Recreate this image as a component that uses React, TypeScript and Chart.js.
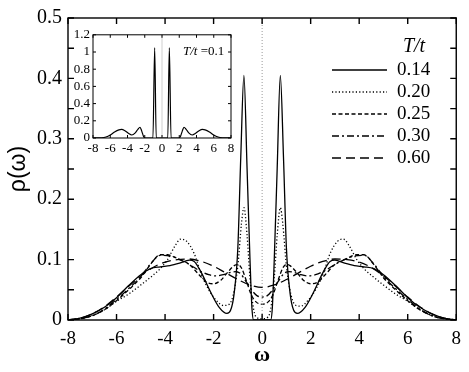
import React, { useEffect, useRef } from 'react';
import { Chart, registerables } from 'chart.js';
Chart.register(...registerables);

// ---------- data ----------
const X_014 = [-8, -7.5, -7, -6.5, -6, -5.5, -5, -4.6, -4.2, -3.8, -3.4, -3.0, -2.8, -2.5, -2.12, -1.77, -1.45, -1.3, -1.15, -1.0, -0.88, -0.75, -0.62, -0.5, -0.42, -0.35, 0, 0.35, 0.42, 0.5, 0.62, 0.75, 0.88, 1.0, 1.15, 1.3, 1.45, 1.77, 2.12, 2.5, 2.8, 3.0, 3.4, 3.8, 4.2, 4.6, 5, 5.5, 6, 6.5, 7, 7.5, 8];
const Y_014 = [0, 0.003, 0.01, 0.021, 0.037, 0.057, 0.075, 0.085, 0.088, 0.09, 0.094, 0.099, 0.097, 0.078, 0.046, 0.021, 0.011, 0.016, 0.045, 0.12, 0.27, 0.405, 0.25, 0.1, 0.02, 0, 0, 0, 0.02, 0.1, 0.25, 0.405, 0.27, 0.12, 0.045, 0.016, 0.011, 0.021, 0.046, 0.078, 0.097, 0.099, 0.094, 0.09, 0.088, 0.085, 0.075, 0.057, 0.037, 0.021, 0.01, 0.003, 0];

const X_020 = [-8, -7.5, -7, -6.5, -6, -5.5, -5, -4.5, -4.2, -3.9, -3.6, -3.35, -3.1, -2.8, -2.5, -2.2, -1.9, -1.6, -1.4, -1.2, -1.0, -0.85, -0.75, -0.62, -0.5, -0.38, -0.25, 0, 0.25, 0.38, 0.5, 0.62, 0.75, 0.85, 1.0, 1.2, 1.4, 1.6, 1.9, 2.2, 2.5, 2.8, 3.1, 3.35, 3.6, 3.9, 4.2, 4.5, 5, 5.5, 6, 6.5, 7, 7.5, 8];
const Y_020 = [0, 0.003, 0.008, 0.017, 0.031, 0.043, 0.058, 0.074, 0.085, 0.1, 0.122, 0.134, 0.13, 0.11, 0.075, 0.05, 0.033, 0.024, 0.025, 0.04, 0.09, 0.16, 0.186, 0.14, 0.07, 0.025, 0.005, 0.002, 0.005, 0.025, 0.07, 0.14, 0.186, 0.16, 0.09, 0.04, 0.024, 0.023, 0.033, 0.05, 0.075, 0.11, 0.13, 0.134, 0.122, 0.1, 0.085, 0.074, 0.058, 0.043, 0.031, 0.017, 0.008, 0.003, 0];

const X_025 = [-8, -7.5, -7, -6.5, -6, -5.5, -5, -4.6, -4.2, -3.9, -3.5, -3.0, -2.6, -2.3, -2.0, -1.7, -1.4, -1.15, -1.0, -0.85, -0.65, -0.45, -0.25, 0, 0.25, 0.45, 0.65, 0.85, 1.0, 1.15, 1.4, 1.7, 2.0, 2.3, 2.6, 3.0, 3.5, 3.9, 4.2, 4.6, 5, 5.5, 6, 6.5, 7, 7.5, 8];
const Y_025 = [0, 0.002, 0.007, 0.017, 0.032, 0.05, 0.07, 0.092, 0.108, 0.108, 0.102, 0.092, 0.075, 0.063, 0.06, 0.066, 0.08, 0.09, 0.092, 0.086, 0.065, 0.042, 0.03, 0.026, 0.03, 0.042, 0.065, 0.086, 0.092, 0.09, 0.08, 0.066, 0.06, 0.063, 0.075, 0.092, 0.102, 0.108, 0.108, 0.092, 0.07, 0.05, 0.032, 0.017, 0.007, 0.002, 0];

const X_030 = [-8, -7.5, -7, -6.5, -6, -5.5, -5, -4.6, -4.2, -3.8, -3.4, -3.0, -2.6, -2.2, -1.9, -1.6, -1.3, -1.1, -0.9, -0.65, -0.4, -0.2, 0, 0.2, 0.4, 0.65, 0.9, 1.1, 1.3, 1.6, 1.9, 2.2, 2.6, 3.0, 3.4, 3.8, 4.2, 4.6, 5, 5.5, 6, 6.5, 7, 7.5, 8];
const Y_030 = [0, 0.002, 0.007, 0.018, 0.034, 0.052, 0.072, 0.093, 0.107, 0.106, 0.1, 0.092, 0.082, 0.075, 0.073, 0.075, 0.079, 0.08, 0.077, 0.063, 0.048, 0.04, 0.038, 0.04, 0.048, 0.063, 0.077, 0.08, 0.079, 0.075, 0.073, 0.075, 0.082, 0.092, 0.1, 0.106, 0.107, 0.093, 0.072, 0.052, 0.034, 0.018, 0.007, 0.002, 0];

const X_060 = [-8, -7.5, -7, -6.5, -6, -5.5, -5, -4.5, -4, -3.5, -3.0, -2.5, -2.0, -1.5, -1.0, -0.5, 0, 0.5, 1.0, 1.5, 2.0, 2.5, 3.0, 3.5, 4, 4.5, 5, 5.5, 6, 6.5, 7, 7.5, 8];
const Y_060 = [0, 0.003, 0.01, 0.022, 0.038, 0.056, 0.073, 0.087, 0.096, 0.1, 0.101, 0.097, 0.089, 0.078, 0.067, 0.058, 0.054, 0.058, 0.067, 0.078, 0.089, 0.097, 0.101, 0.1, 0.096, 0.087, 0.073, 0.056, 0.038, 0.022, 0.01, 0.003, 0];

// inset: T/t = 0.1
const X_INSET = [-8, -7, -6.5, -6, -5.5, -5, -4.7, -4.3, -3.9, -3.5, -3.1, -2.8, -2.55, -2.35, -2.15, -2.0, -1.05, -0.85, -0.67, 0, 0.67, 0.85, 1.05, 2.0, 2.15, 2.35, 2.55, 2.8, 3.1, 3.5, 3.9, 4.3, 4.7, 5, 5.5, 6, 6.5, 7, 8];
const Y_INSET = [0, 0.003, 0.012, 0.035, 0.07, 0.095, 0.1, 0.085, 0.055, 0.035, 0.06, 0.1, 0.125, 0.08, 0.02, 0, 0, 1.05, 0, 0, 0, 1.05, 0, 0, 0.02, 0.08, 0.125, 0.1, 0.06, 0.035, 0.055, 0.085, 0.1, 0.095, 0.07, 0.035, 0.012, 0.003, 0];

const LEGEND_TITLE = 'T/t';
const SERIES_LABELS = ['0.14', '0.20', '0.25', '0.30', '0.60'];
const SERIES_X = [X_014, X_020, X_025, X_030, X_060];
const SERIES_Y = [Y_014, Y_020, Y_025, Y_030, Y_060];
const SERIES_DASH = [[], [1.2, 2.2], [4, 2.5], [7, 3, 2, 3], [9, 5]];

const X_TICKS = [-8, -6, -4, -2, 0, 2, 4, 6, 8];
const Y_TICKS = [0, 0.1, 0.2, 0.3, 0.4, 0.5];
const Y_MINOR = [0.05, 0.15, 0.25, 0.35, 0.45];
const INSET_X_TICKS = [-8, -6, -4, -2, 0, 2, 4, 6, 8];
const INSET_Y_TICKS = [0, 0.2, 0.4, 0.6, 0.8, 1, 1.2];
const INSET_LABEL_ITALIC = 'T/t';
const INSET_LABEL_REST = ' =0.1';
const ZERO_LINE_X = [0, 0];
const ZERO_LINE_Y = [0, 0.5];
const INSET_ZERO_Y = [0, 1.2];

const SERIF = '"Liberation Serif", "DejaVu Serif", serif';
const SANS = '"Liberation Sans", "DejaVu Sans", sans-serif';

const pts = (xs: number[], ys: number[]) => xs.map((x, i) => ({ x, y: ys[i] }));

function drawFrameTicks(chart: any, xt: number[], yt: number[], len: number, lw: number) {
  const { ctx, chartArea: a, scales } = chart;
  ctx.save();
  ctx.strokeStyle = '#000';
  ctx.lineWidth = lw;
  ctx.setLineDash([]);
  ctx.strokeRect(a.left, a.top, a.right - a.left, a.bottom - a.top);
  ctx.beginPath();
  xt.forEach((v) => {
    const px = scales.x.getPixelForValue(v);
    ctx.moveTo(px, a.bottom); ctx.lineTo(px, a.bottom - len);
    ctx.moveTo(px, a.top); ctx.lineTo(px, a.top + len);
  });
  yt.forEach((v) => {
    const py = scales.y.getPixelForValue(v);
    ctx.moveTo(a.left, py); ctx.lineTo(a.left + len, py);
    ctx.moveTo(a.right, py); ctx.lineTo(a.right - len, py);
  });
  ctx.stroke();
  ctx.restore();
}

const mainPlugin = {
  id: 'mainDeco',
  afterDatasetsDraw(chart: any) {
    drawFrameTicks(chart, X_TICKS, [...Y_TICKS, ...Y_MINOR], 6, 1.4);
    const { ctx } = chart;
    ctx.save();
    ctx.fillStyle = '#000';
    ctx.textBaseline = 'middle';
    ctx.font = `italic 20px ${SERIF}`;
    ctx.textAlign = 'center';
    ctx.fillText(LEGEND_TITLE, 414, 47);
    ctx.textAlign = 'left';
    ctx.font = `19px ${SERIF}`;
    SERIES_LABELS.forEach((lab, i) => {
      const y = 70 + i * 22;
      ctx.beginPath();
      ctx.strokeStyle = '#000';
      ctx.lineWidth = 1.3;
      ctx.setLineDash(SERIES_DASH[i]);
      ctx.moveTo(332, y);
      ctx.lineTo(387, y);
      ctx.stroke();
      ctx.fillText(lab, 397, y);
    });
    ctx.restore();
  },
};

const insetPlugin = {
  id: 'insetDeco',
  afterDatasetsDraw(chart: any) {
    drawFrameTicks(chart, INSET_X_TICKS, INSET_Y_TICKS, 3, 1);
    const { ctx } = chart;
    ctx.save();
    ctx.fillStyle = '#000';
    ctx.textBaseline = 'middle';
    ctx.textAlign = 'left';
    ctx.font = `italic 13px ${SERIF}`;
    const x0 = 125;
    ctx.fillText(INSET_LABEL_ITALIC, x0, 28);
    const w = ctx.measureText(INSET_LABEL_ITALIC).width;
    ctx.font = `13px ${SERIF}`;
    ctx.fillText(INSET_LABEL_REST, x0 + w, 28);
    ctx.restore();
  },
};

export default function App() {
  const mainRef = useRef<HTMLCanvasElement>(null);
  const insetRef = useRef<HTMLCanvasElement>(null);

  useEffect(() => {
    const datasets: any[] = SERIES_LABELS.map((lab, i) => ({
      label: lab,
      data: pts(SERIES_X[i], SERIES_Y[i]),
      borderColor: '#000',
      borderWidth: 1.3,
      borderDash: SERIES_DASH[i],
      pointRadius: 0,
      fill: false,
      cubicInterpolationMode: 'monotone',
    }));
    datasets.unshift({
      label: 'zero',
      data: pts(ZERO_LINE_X, ZERO_LINE_Y),
      borderColor: '#9a9a9a',
      borderWidth: 1,
      borderDash: [1, 2],
      pointRadius: 0,
      fill: false,
    });
    const main = new Chart(mainRef.current!, {
      type: 'line',
      data: { datasets },
      plugins: [mainPlugin],
      options: {
        animation: false,
        responsive: false,
        layout: { padding: { top: 18, right: 12, left: 0, bottom: 0 } },
        plugins: { legend: { display: false }, tooltip: { enabled: false } },
        scales: {
          x: {
            type: 'linear', min: -8, max: 8,
            afterBuildTicks: (s: any) => { s.ticks = X_TICKS.map((v) => ({ value: v })); },
            afterFit: (s: any) => { s.height = 52; },
            grid: { display: false, drawTicks: false }, border: { display: false },
            ticks: { color: '#000', font: { family: SERIF, size: 19 }, padding: 8, maxRotation: 0, autoSkip: false, callback: (v: any) => String(v) },
            title: { display: true, text: 'ω', color: '#000', font: { family: SERIF, size: 22, weight: 'bold' }, padding: { top: 0, bottom: 3 } },
          },
          y: {
            type: 'linear', min: 0, max: 0.5,
            afterBuildTicks: (s: any) => { s.ticks = Y_TICKS.map((v) => ({ value: v })); },
            afterFit: (s: any) => { s.width = 68; },
            grid: { display: false, drawTicks: false }, border: { display: false },
            ticks: { color: '#000', font: { family: SERIF, size: 20 }, padding: 6, autoSkip: false, callback: (v: any) => String(Math.round(v * 10) / 10) },
            title: { display: true, text: 'ρ(ω)', color: '#000', font: { family: SANS, size: 23 }, padding: { top: 5, bottom: 0 } },
          },
        },
      } as any,
    });

    const inset = new Chart(insetRef.current!, {
      type: 'line',
      data: {
        datasets: [
          { label: 'zero', data: pts(ZERO_LINE_X, INSET_ZERO_Y), borderColor: '#cfcfcf', borderWidth: 1, pointRadius: 0, fill: false },
          { label: '0.1', data: pts(X_INSET, Y_INSET), borderColor: '#000', borderWidth: 1.2, pointRadius: 0, fill: false, cubicInterpolationMode: 'monotone' },
        ] as any,
      },
      plugins: [insetPlugin],
      options: {
        animation: false,
        responsive: false,
        layout: { padding: { top: 8, right: 17, left: 0, bottom: 0 } },
        plugins: { legend: { display: false }, tooltip: { enabled: false } },
        scales: {
          x: {
            type: 'linear', min: -8, max: 8,
            afterBuildTicks: (s: any) => { s.ticks = INSET_X_TICKS.map((v) => ({ value: v })); },
            afterFit: (s: any) => { s.height = 20; },
            grid: { display: false, drawTicks: false }, border: { display: false },
            ticks: { color: '#000', font: { family: SERIF, size: 13 }, padding: 3, maxRotation: 0, autoSkip: false, callback: (v: any) => String(v) },
          },
          y: {
            type: 'linear', min: 0, max: 1.2,
            afterBuildTicks: (s: any) => { s.ticks = INSET_Y_TICKS.map((v) => ({ value: v })); },
            afterFit: (s: any) => { s.width = 35; },
            grid: { display: false, drawTicks: false }, border: { display: false },
            ticks: { color: '#000', font: { family: SERIF, size: 13 }, padding: 3, autoSkip: false, callback: (v: any) => String(Math.round(v * 10) / 10) },
          },
        },
      } as any,
    });

    return () => { main.destroy(); inset.destroy(); };
  }, []);

  return (
    <div style={{ position: 'absolute', left: 0, top: 0, width: 469, height: 372, background: '#fff' }}>
      <canvas ref={mainRef} width={469} height={372} style={{ position: 'absolute', left: 0, top: 0, width: 469, height: 372 }} />
      <canvas ref={insetRef} width={190} height={134} style={{ position: 'absolute', left: 58, top: 24, width: 190, height: 134 }} />
    </div>
  );
}
